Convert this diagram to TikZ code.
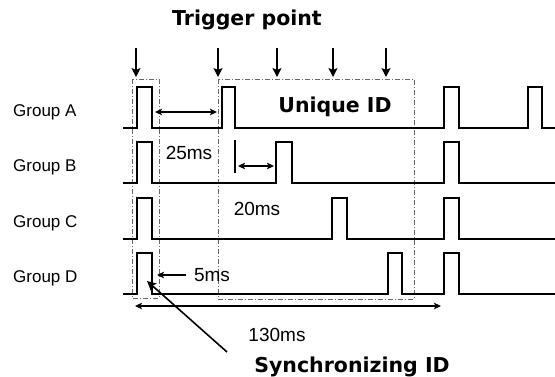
\documentclass[tikz,border=0pt]{standalone}
\usepackage{fontspec}
\setmainfont{Liberation Sans}
\newfontfamily\boldfont{DejaVu Sans}
\usetikzlibrary{arrows.meta}
\begin{document}
\begin{tikzpicture}[x=1pt,y=-1pt,
  sig/.style={line width=1.4pt,line join=miter},
  frame/.style={draw=black!60,line width=0.6pt,dash pattern=on 5pt off 2pt on 1pt off 2pt},
  arr/.style={line width=1.4pt,-{Stealth[length=9pt,width=9pt,inset=2pt]}},
  darr/.style={line width=1.2pt,{Stealth[length=7pt,width=6.5pt,inset=1.5pt]}-{Stealth[length=7pt,width=6.5pt,inset=1.5pt]}},
  sarr/.style={line width=1.2pt,-{Stealth[length=7pt,width=6.5pt,inset=1.5pt]}},
  grp/.style={anchor=west,font=\fontsize{17}{17}\selectfont,inner sep=0pt},
  ms/.style={font=\fontsize{19}{19}\selectfont,inner sep=0pt},
  big/.style={font=\boldfont\bfseries\fontsize{20.5}{20.5}\selectfont,inner sep=0pt}]
\useasboundingbox (0,0) rectangle (555,376);
% frames
\draw[frame] (132,79) rectangle (159,298);
\draw[frame] (218,79) rectangle (414,299);
% labels
\node[big] (trig) at (247,20) {Trigger point};
\node[big] (uid) at (335,107) {Unique ID};
\node[big] (sync) at (352,367) {Synchronizing ID};
\node[grp] (ga) at (13,112) {Group A};
\node[grp] (gb) at (13,167) {Group B};
\node[grp] (gc) at (13,223) {Group C};
\node[grp] (gd) at (13,278) {Group D};
\node[ms] (t25) at (189,153) {25ms};
\node[ms] (t20) at (257,209) {20ms};
\node[ms] (t5) at (212,275) {5ms};
\node[ms] (t130) at (277,335) {130ms};
% trigger arrows
\foreach \x [count=\i] in {136,218,277,333,386}{
  \coordinate (ts\i) at (\x,48); \coordinate (te\i) at (\x,77);
  \draw[arr] (ts\i) -- (te\i);
}
% signals
\draw[sig] (123,128) -- (137,128) -- (137,87) -- (152,87) -- (152,128)
  -- (222,128) -- (222,87) -- (235,87) -- (235,128)
  -- (444,128) -- (444,87) -- (459,87) -- (459,128)
  -- (528,128) -- (528,87) -- (542,87) -- (542,128) -- (555,128);
\draw[sig] (123,183) -- (137,183) -- (137,142) -- (152,142) -- (152,183)
  -- (276,183) -- (276,142) -- (292,142) -- (292,183)
  -- (444,183) -- (444,142) -- (459,142) -- (459,183) -- (555,183);
\draw[sig] (123,239) -- (137,239) -- (137,198) -- (152,198) -- (152,239)
  -- (332,239) -- (332,198) -- (347,198) -- (347,239)
  -- (444,239) -- (444,198) -- (459,198) -- (459,239) -- (555,239);
\draw[sig] (123,294) -- (137,294) -- (137,253) -- (152,253) -- (152,294)
  -- (388,294) -- (388,253) -- (402,253) -- (402,294)
  -- (444,294) -- (444,253) -- (459,253) -- (459,294) -- (555,294);
% dimension arrows
\coordinate (a1) at (155,112); \coordinate (a2) at (217,112);
\draw[darr] (a1) -- (a2);
\coordinate (tk1) at (235,140); \coordinate (tk2) at (235,173);
\draw[line width=1.2pt] (tk1) -- (tk2);
\coordinate (b1) at (238,166); \coordinate (b2) at (274,166);
\draw[darr] (b1) -- (b2);
\coordinate (f1) at (186,275); \coordinate (f2) at (157,275);
\draw[sarr] (f1) -- (f2);
\coordinate (h1) at (135,306); \coordinate (h2) at (441,306);
\draw[darr] (h1) -- (h2);
\coordinate (s1) at (227,352); \coordinate (s2) at (147,281);
\draw[arr,line width=1.6pt] (s1) -- (s2);
\end{tikzpicture}
\end{document}
